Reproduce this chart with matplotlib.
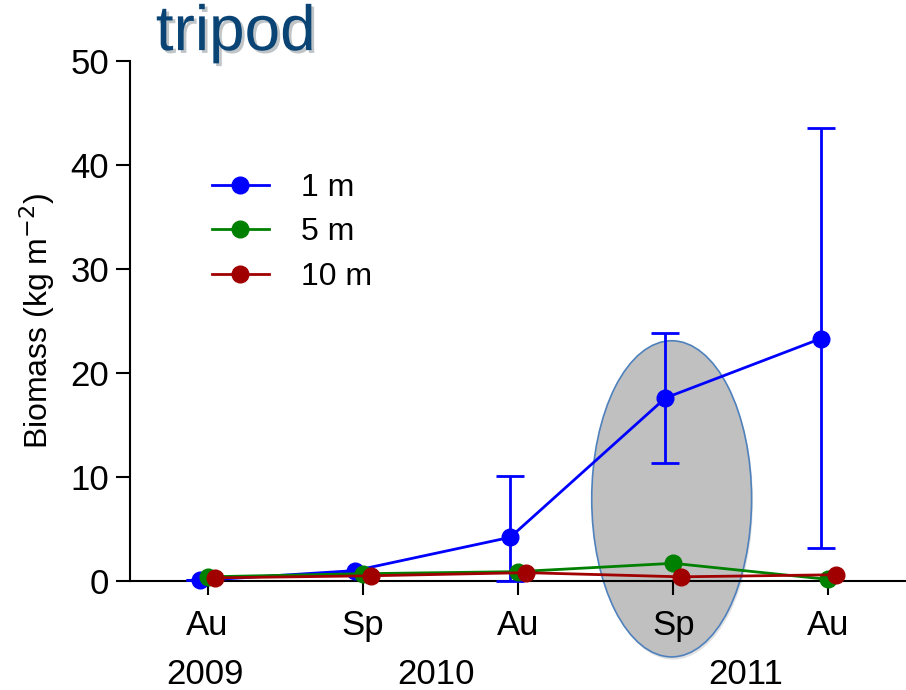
import matplotlib.pyplot as plt
import matplotlib.patheffects as pe
from matplotlib.patches import Ellipse
from matplotlib.lines import Line2D
import numpy as np

plt.rcParams['font.family'] = ['Liberation Sans', 'DejaVu Sans']

seasons = ['Au', 'Sp', 'Au', 'Sp', 'Au']
years = ['2009', '2010', '2011']
year_pos = [-0.02, 1.47, 3.47]

blue_1m = [0.05, 1.0, 4.2, 17.6, 23.3]
blue_err_hi = [0.0, 0.0, 5.9, 6.2, 20.3]
blue_err_lo = [0.0, 0.0, 4.2, 6.3, 20.1]
green_5m = [0.4, 0.7, 0.9, 1.7, 0.15]
red_10m = [0.3, 0.5, 0.8, 0.4, 0.6]
red_err = [0.0, 0.0, 0.5, 0.0, 0.4]

x = np.arange(len(seasons))
off = 0.05
blue, green, red = '#0000ff', '#008000', '#a00000'

fig = plt.figure(figsize=(9.06, 6.9), dpi=100)
ax = fig.add_axes([0.1435, 0.158, 0.8565, 0.7536])

# highlighted sampling
ell = Ellipse((2.99, 7.9), 1.03, 30.4, facecolor='#c0c0c0', edgecolor='#4f81bd',
              linewidth=1.2, zorder=1, clip_on=False,
              path_effects=[pe.SimplePatchShadow(offset=(1, -2), alpha=0.15), pe.Normal()])
ax.add_patch(ell)

ax.errorbar(x - off, blue_1m, yerr=[blue_err_lo, blue_err_hi], color=blue, marker='o',
            markersize=12, linewidth=2, capsize=10, capthick=2, elinewidth=2,
            zorder=3, clip_on=False)
ax.plot(x, green_5m, color=green, marker='o', markersize=12, linewidth=2,
        zorder=4, clip_on=False)
ax.errorbar(x + off, red_10m, yerr=red_err, color=red, marker='o', markersize=12,
            linewidth=2, elinewidth=7, capsize=0, zorder=5, clip_on=False)

ax.set_xlim(-0.5, 4.5)
ax.set_ylim(0, 50)
ax.set_yticks([0, 10, 20, 30, 40, 50])
ax.set_xticks(x)
ax.set_xticklabels(seasons)
ax.tick_params(axis='both', labelsize=25, width=1.5, length=10, direction='out', pad=5)
ax.tick_params(axis='x', pad=10)
for s in ['top', 'right']:
    ax.spines[s].set_visible(False)
ax.spines['left'].set_linewidth(1.5)
ax.spines['bottom'].set_linewidth(1.5)
ax.spines['bottom'].set_zorder(2.5)
ax.set_ylabel('Biomass (kg m$^{-2}$)', fontsize=23, labelpad=10)

for yr, p in zip(years, year_pos):
    ax.text(p, -9.0, yr, fontsize=25, ha='center', va='center')

handles = [Line2D([], [], color=c, marker='o', markersize=12, linewidth=2)
           for c in (blue, green, red)]
ax.legend(handles, ['1 m', '5 m', '10 m'], loc='upper left', bbox_to_anchor=(0.068, 0.84),
          frameon=False, fontsize=23, handlelength=1.8, handletextpad=1.0, labelspacing=0.45)

fig.text(0.172, 0.952, 'tripod', fontsize=46, color='#0a4475', ha='left', va='center',
         path_effects=[pe.withSimplePatchShadow(offset=(2, -2), alpha=0.25)])

fig.savefig('out.png', dpi=100)
